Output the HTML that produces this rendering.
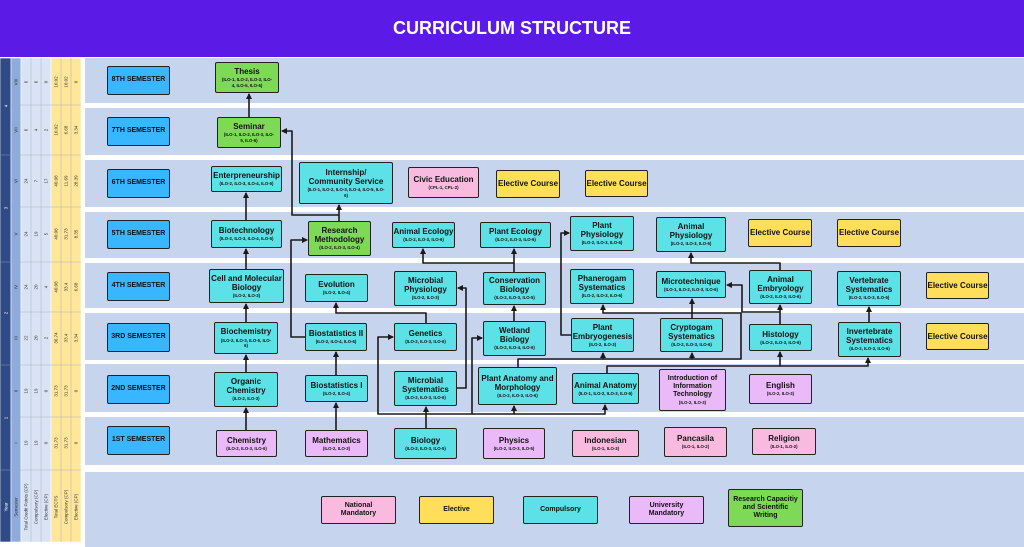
<!DOCTYPE html>
<html><head><meta charset="utf-8"><style>
*{margin:0;padding:0;box-sizing:border-box}
body{width:1024px;height:547px;position:relative;background:#fff;font-family:"Liberation Sans",sans-serif;overflow:hidden}
.t{position:absolute;left:0;top:0;width:1024px;height:57px;background:#5b1ae6;color:#fff;font-weight:bold;font-size:18px;text-align:center;line-height:57px}
.band{position:absolute;left:85px;width:939px;background:#c6d4ee}
.n{position:absolute;border:1.5px solid #222;border-radius:2px;display:flex;flex-direction:column;align-items:center;justify-content:center;text-align:center;color:#111;line-height:1.15}
.n b{font-size:8px;font-weight:bold}
.n i{font-style:normal;font-size:4.3px;font-weight:bold;margin-top:1px;line-height:1.3}
.c{background:#5ce1e6}.g{background:#7ed957}.p{background:#f8bbdf}.l{background:#eab9f8}.y{background:#ffde59}.s{background:#38b6ff}
.s b{font-size:7px}
svg{position:absolute;left:0;top:0}
</style></head><body>
<div class="t">CURRICULUM STRUCTURE</div>
<div class="band" style="top:58px;height:45px"></div>
<div class="band" style="top:108px;height:47px"></div>
<div class="band" style="top:160px;height:47px"></div>
<div class="band" style="top:212px;height:46px"></div>
<div class="band" style="top:263px;height:45px"></div>
<div class="band" style="top:313px;height:47px"></div>
<div class="band" style="top:364px;height:48px"></div>
<div class="band" style="top:417px;height:48px"></div>
<div class="band" style="top:472px;height:75px"></div>

<svg width="85" height="547" style="font-family:'Liberation Sans',sans-serif">
<g stroke="#fff" stroke-width="0.6">
<rect x="0" y="58" width="11" height="484" fill="#2f4b87"/>
<rect x="11" y="58" width="10" height="484" fill="#8faadc"/>
<rect x="21" y="58" width="30" height="484" fill="#dae3f3"/>
<rect x="51" y="58" width="30" height="484" fill="#ffe699"/>
</g>
<g stroke="#9aa8c0" stroke-width="0.4">
<line x1="0" y1="155" x2="81" y2="155"/><line x1="0" y1="262" x2="81" y2="262"/><line x1="0" y1="365" x2="81" y2="365"/><line x1="0" y1="470" x2="81" y2="470"/>
<line x1="11" y1="105" x2="81" y2="105"/><line x1="11" y1="207" x2="81" y2="207"/><line x1="11" y1="312" x2="81" y2="312"/><line x1="11" y1="417" x2="81" y2="417"/>
<line x1="31" y1="58" x2="31" y2="542"/><line x1="41" y1="58" x2="41" y2="542"/><line x1="61" y1="58" x2="61" y2="542"/><line x1="71" y1="58" x2="71" y2="542"/>
</g>
<g font-size="4.5" text-anchor="middle" fill="#333">
<g fill="#fff"><text transform="translate(6,507) rotate(-90)" dy="1.5">Year</text>
<text transform="translate(6,418) rotate(-90)" dy="1.5">1</text><text transform="translate(6,313) rotate(-90)" dy="1.5">2</text><text transform="translate(6,208) rotate(-90)" dy="1.5">3</text><text transform="translate(6,106) rotate(-90)" dy="1.5">4</text></g>
<text transform="translate(16,507) rotate(-90)" dy="1.5">Semester</text>
<text transform="translate(26,507) rotate(-90)" dy="1.5">Total Credit Points (CP)</text>
<text transform="translate(36,507) rotate(-90)" dy="1.5">Compulsory (CP)</text>
<text transform="translate(46,507) rotate(-90)" dy="1.5">Elective (CP)</text>
<text transform="translate(56,507) rotate(-90)" dy="1.5">Total ECTS</text>
<text transform="translate(66,507) rotate(-90)" dy="1.5">Compulsory (CP)</text>
<text transform="translate(76,507) rotate(-90)" dy="1.5">Elective (CP)</text>
<text transform="translate(16,82) rotate(-90)" dy="1.5">VIII</text><text transform="translate(26,82) rotate(-90)" dy="1.5">6</text><text transform="translate(36,82) rotate(-90)" dy="1.5">6</text><text transform="translate(46,82) rotate(-90)" dy="1.5">0</text><text transform="translate(56,82) rotate(-90)" dy="1.5">10.02</text><text transform="translate(66,82) rotate(-90)" dy="1.5">10.02</text><text transform="translate(76,82) rotate(-90)" dy="1.5">0</text>
<text transform="translate(16,130) rotate(-90)" dy="1.5">VII</text><text transform="translate(26,130) rotate(-90)" dy="1.5">6</text><text transform="translate(36,130) rotate(-90)" dy="1.5">4</text><text transform="translate(46,130) rotate(-90)" dy="1.5">2</text><text transform="translate(56,130) rotate(-90)" dy="1.5">10.02</text><text transform="translate(66,130) rotate(-90)" dy="1.5">6.68</text><text transform="translate(76,130) rotate(-90)" dy="1.5">3.34</text>
<text transform="translate(16,181) rotate(-90)" dy="1.5">VI</text><text transform="translate(26,181) rotate(-90)" dy="1.5">24</text><text transform="translate(36,181) rotate(-90)" dy="1.5">7</text><text transform="translate(46,181) rotate(-90)" dy="1.5">17</text><text transform="translate(56,181) rotate(-90)" dy="1.5">40.08</text><text transform="translate(66,181) rotate(-90)" dy="1.5">11.69</text><text transform="translate(76,181) rotate(-90)" dy="1.5">28.39</text>
<text transform="translate(16,234) rotate(-90)" dy="1.5">V</text><text transform="translate(26,234) rotate(-90)" dy="1.5">24</text><text transform="translate(36,234) rotate(-90)" dy="1.5">19</text><text transform="translate(46,234) rotate(-90)" dy="1.5">5</text><text transform="translate(56,234) rotate(-90)" dy="1.5">40.08</text><text transform="translate(66,234) rotate(-90)" dy="1.5">31.73</text><text transform="translate(76,234) rotate(-90)" dy="1.5">8.35</text>
<text transform="translate(16,287) rotate(-90)" dy="1.5">IV</text><text transform="translate(26,287) rotate(-90)" dy="1.5">24</text><text transform="translate(36,287) rotate(-90)" dy="1.5">20</text><text transform="translate(46,287) rotate(-90)" dy="1.5">4</text><text transform="translate(56,287) rotate(-90)" dy="1.5">40.08</text><text transform="translate(66,287) rotate(-90)" dy="1.5">33.4</text><text transform="translate(76,287) rotate(-90)" dy="1.5">6.68</text>
<text transform="translate(16,338) rotate(-90)" dy="1.5">III</text><text transform="translate(26,338) rotate(-90)" dy="1.5">22</text><text transform="translate(36,338) rotate(-90)" dy="1.5">20</text><text transform="translate(46,338) rotate(-90)" dy="1.5">2</text><text transform="translate(56,338) rotate(-90)" dy="1.5">36.74</text><text transform="translate(66,338) rotate(-90)" dy="1.5">33.4</text><text transform="translate(76,338) rotate(-90)" dy="1.5">3.34</text>
<text transform="translate(16,391) rotate(-90)" dy="1.5">II</text><text transform="translate(26,391) rotate(-90)" dy="1.5">19</text><text transform="translate(36,391) rotate(-90)" dy="1.5">19</text><text transform="translate(46,391) rotate(-90)" dy="1.5">0</text><text transform="translate(56,391) rotate(-90)" dy="1.5">31.73</text><text transform="translate(66,391) rotate(-90)" dy="1.5">31.73</text><text transform="translate(76,391) rotate(-90)" dy="1.5">0</text>
<text transform="translate(16,443) rotate(-90)" dy="1.5">I</text><text transform="translate(26,443) rotate(-90)" dy="1.5">19</text><text transform="translate(36,443) rotate(-90)" dy="1.5">19</text><text transform="translate(46,443) rotate(-90)" dy="1.5">0</text><text transform="translate(56,443) rotate(-90)" dy="1.5">31.73</text><text transform="translate(66,443) rotate(-90)" dy="1.5">31.73</text><text transform="translate(76,443) rotate(-90)" dy="1.5">0</text>
</g>
</svg>

<svg width="1024" height="547">
<defs><marker id="a" markerWidth="6" markerHeight="6" refX="5" refY="3" orient="auto" markerUnits="userSpaceOnUse"><path d="M0,0 L6,3 L0,6 z" fill="#1a1a1a"/></marker></defs>
<g fill="none" stroke="#1a1a1a" stroke-width="1.6" stroke-linejoin="round" marker-end="url(#a)">
<path d="M249,117 V94"/>
<path d="M339,221 V205"/>
<path d="M339,215 H292 V131 H282"/>
<path d="M246,220 V193"/>
<path d="M246,269 V249"/>
<path d="M246,322 V304"/>
<path d="M246,372 V355"/>
<path d="M246,430 V408"/>
<path d="M336,430 V403"/>
<path d="M336,375 V352"/>
<path d="M305,337 H291 V240 H307"/>
<path d="M426,323 V313 H336 V303"/>
<path d="M426,428 V407"/>
<path d="M426,414 H378 V337 H393"/>
<path d="M426,414 H472 V338 H482"/>
<path d="M472,414 H514 V406"/>
<path d="M514,414 H605 V405"/>
<path d="M457,388 H466 V288 H458"/>
<path d="M514,321 V306"/>
<path d="M514,272 V263 H423 V249"/>
<path d="M514,263 V249"/>
<path d="M518,367 V359 H603 V353"/>
<path d="M603,359 H692 V353"/>
<path d="M692,359 H741 V313 H603 V305"/>
<path d="M692,318 V299"/>
<path d="M571,335 H561 V233 H569"/>
<path d="M607,373 V366 H780 V352"/>
<path d="M780,366 H868 V358"/>
<path d="M780,324 V305"/>
<path d="M780,312 H742 V285 H727"/>
<path d="M780,270 V263 H691 V253"/>
<path d="M869,322 V307"/>
</g>
</svg>

<div class="n s" style="left:107px;top:66px;width:63px;height:29px"><b>8TH SEMESTER</b></div>
<div class="n s" style="left:107px;top:117px;width:63px;height:29px"><b>7TH SEMESTER</b></div>
<div class="n s" style="left:107px;top:169px;width:63px;height:29px"><b>6TH SEMESTER</b></div>
<div class="n s" style="left:107px;top:220px;width:63px;height:29px"><b>5TH SEMESTER</b></div>
<div class="n s" style="left:107px;top:272px;width:63px;height:29px"><b>4TH SEMESTER</b></div>
<div class="n s" style="left:107px;top:323px;width:63px;height:29px"><b>3RD SEMESTER</b></div>
<div class="n s" style="left:107px;top:375px;width:63px;height:29px"><b>2ND SEMESTER</b></div>
<div class="n s" style="left:107px;top:426px;width:63px;height:29px"><b>1ST SEMESTER</b></div>

<div class="n g" style="left:215px;top:62px;width:64px;height:31px"><b>Thesis</b><i>(ILO-1, ILO-2, ILO-3, ILO-<br>4, ILO-5, ILO-6)</i></div>
<div class="n g" style="left:217px;top:117px;width:64px;height:31px"><b>Seminar</b><i>(ILO-1, ILO-2, ILO-3, ILO-<br>5, ILO-6)</i></div>
<div class="n c" style="left:211px;top:166px;width:71px;height:26px"><b>Enterpreneurship</b><i>(ILO-2, ILO-3, ILO-4, ILO-5)</i></div>
<div class="n c" style="left:299px;top:162px;width:94px;height:42px"><b>Internship/<br>Community Service</b><i>(ILO-1, ILO-2, ILO-3, ILO-4, ILO-5, ILO-<br>6)</i></div>
<div class="n p" style="left:408px;top:167px;width:71px;height:31px"><b>Civic Education</b><i>(CPL-1, CPL-2)</i></div>
<div class="n y" style="left:496px;top:170px;width:64px;height:28px"><b>Elective Course</b></div>
<div class="n y" style="left:585px;top:170px;width:63px;height:27px"><b>Elective Course</b></div>

<div class="n c" style="left:211px;top:220px;width:71px;height:28px"><b>Biotechnology</b><i>(ILO-2, ILO-3, ILO-4, ILO-5)</i></div>
<div class="n g" style="left:308px;top:221px;width:63px;height:35px"><b>Research<br>Methodology</b><i>(ILO-2, ILO-3, ILO-4)</i></div>
<div class="n c" style="left:392px;top:222px;width:63px;height:26px"><b>Animal Ecology</b><i>(ILO-2, ILO-3, ILO-6)</i></div>
<div class="n c" style="left:480px;top:222px;width:71px;height:26px"><b>Plant Ecology</b><i>(ILO-2, ILO-3, ILO-6)</i></div>
<div class="n c" style="left:570px;top:216px;width:64px;height:35px"><b>Plant<br>Physiology</b><i>(ILO-2, ILO-3, ILO-6)</i></div>
<div class="n c" style="left:656px;top:217px;width:70px;height:35px"><b>Animal<br>Physiology</b><i>(ILO-2, ILO-3, ILO-6)</i></div>
<div class="n y" style="left:748px;top:219px;width:64px;height:28px"><b>Elective Course</b></div>
<div class="n y" style="left:837px;top:219px;width:64px;height:28px"><b>Elective Course</b></div>

<div class="n c" style="left:209px;top:269px;width:75px;height:34px"><b>Cell and Molecular<br>Biology</b><i>(ILO-2, ILO-3)</i></div>
<div class="n c" style="left:305px;top:274px;width:63px;height:28px"><b>Evolution</b><i>(ILO-2, ILO-4)</i></div>
<div class="n c" style="left:394px;top:271px;width:63px;height:35px"><b>Microbial<br>Physiology</b><i>(ILO-2, ILO-3)</i></div>
<div class="n c" style="left:483px;top:272px;width:63px;height:33px"><b>Conservation<br>Biology</b><i>(ILO-2, ILO-3, ILO-5)</i></div>
<div class="n c" style="left:570px;top:269px;width:64px;height:35px"><b>Phanerogam<br>Systematics</b><i>(ILO-2, ILO-3, ILO-6)</i></div>
<div class="n c" style="left:656px;top:271px;width:70px;height:27px"><b>Microtechnique</b><i>(ILO-1, ILO-2, ILO-3, ILO-6)</i></div>
<div class="n c" style="left:749px;top:270px;width:63px;height:34px"><b>Animal<br>Embryology</b><i>(ILO-2, ILO-3, ILO-6)</i></div>
<div class="n c" style="left:837px;top:271px;width:64px;height:35px"><b>Vertebrate<br>Systematics</b><i>(ILO-2, ILO-3, ILO-6)</i></div>
<div class="n y" style="left:926px;top:272px;width:63px;height:27px"><b>Elective Course</b></div>

<div class="n c" style="left:214px;top:322px;width:64px;height:32px"><b>Biochemistry</b><i>(ILO-2, ILO-3, ILO-5, ILO-<br>6)</i></div>
<div class="n c" style="left:305px;top:323px;width:62px;height:28px"><b>Biostatistics II</b><i>(ILO-2, ILO-4, ILO-6)</i></div>
<div class="n c" style="left:394px;top:323px;width:63px;height:28px"><b>Genetics</b><i>(ILO-2, ILO-3, ILO-6)</i></div>
<div class="n c" style="left:483px;top:321px;width:63px;height:35px"><b>Wetland<br>Biology</b><i>(ILO-2, ILO-4, ILO-6)</i></div>
<div class="n c" style="left:571px;top:318px;width:63px;height:34px"><b>Plant<br>Embryogenesis</b><i>(ILO-2, ILO-3)</i></div>
<div class="n c" style="left:660px;top:318px;width:63px;height:34px"><b>Cryptogam<br>Systematics</b><i>(ILO-2, ILO-3, ILO-6)</i></div>
<div class="n c" style="left:749px;top:324px;width:63px;height:27px"><b>Histology</b><i>(ILO-2, ILO-3, ILO-6)</i></div>
<div class="n c" style="left:838px;top:322px;width:63px;height:35px"><b>Invertebrate<br>Systematics</b><i>(ILO-2, ILO-3, ILO-6)</i></div>
<div class="n y" style="left:926px;top:323px;width:63px;height:27px"><b>Elective Course</b></div>

<div class="n c" style="left:214px;top:372px;width:64px;height:35px"><b>Organic<br>Chemistry</b><i>(ILO-2, ILO-3)</i></div>
<div class="n c" style="left:305px;top:375px;width:63px;height:27px"><b>Biostatistics I</b><i>(ILO-2, ILO-4)</i></div>
<div class="n c" style="left:394px;top:371px;width:63px;height:35px"><b>Microbial<br>Systematics</b><i>(ILO-2, ILO-3, ILO-6)</i></div>
<div class="n c" style="left:478px;top:367px;width:79px;height:38px"><b>Plant Anatomy and<br>Morphology</b><i>(ILO-2, ILO-3, ILO-6)</i></div>
<div class="n c" style="left:572px;top:373px;width:67px;height:31px"><b>Animal Anatomy</b><i>(ILO-1, ILO-2, ILO-3, ILO-6)</i></div>
<div class="n l" style="left:659px;top:369px;width:67px;height:42px"><b style="font-size:7px">Introduction of<br>Information<br>Technology</b><i>(ILO-2, ILO-3)</i></div>
<div class="n l" style="left:749px;top:374px;width:63px;height:30px"><b>English</b><i>(ILO-2, ILO-3)</i></div>

<div class="n l" style="left:216px;top:430px;width:61px;height:27px"><b>Chemistry</b><i>(ILO-2, ILO-3, ILO-6)</i></div>
<div class="n l" style="left:305px;top:430px;width:63px;height:27px"><b>Mathematics</b><i>(ILO-2, ILO-3)</i></div>
<div class="n c" style="left:394px;top:428px;width:63px;height:31px"><b>Biology</b><i>(ILO-2, ILO-3, ILO-5)</i></div>
<div class="n l" style="left:483px;top:428px;width:62px;height:31px"><b>Physics</b><i>(ILO-2, ILO-3, ILO-5)</i></div>
<div class="n p" style="left:572px;top:430px;width:67px;height:27px"><b>Indonesian</b><i>(ILO-1, ILO-3)</i></div>
<div class="n p" style="left:664px;top:427px;width:63px;height:30px"><b>Pancasila</b><i>(ILO-1, ILO-2)</i></div>
<div class="n p" style="left:752px;top:428px;width:64px;height:27px"><b>Religion</b><i>(ILO-1, ILO-2)</i></div>

<div class="n p" style="left:321px;top:496px;width:75px;height:28px"><b style="font-size:7px">National<br>Mandatory</b></div>
<div class="n y" style="left:419px;top:496px;width:75px;height:28px"><b style="font-size:7px">Elective</b></div>
<div class="n c" style="left:523px;top:496px;width:75px;height:28px"><b style="font-size:7px">Compulsory</b></div>
<div class="n l" style="left:629px;top:496px;width:75px;height:28px"><b style="font-size:7px">University<br>Mandatory</b></div>
<div class="n g" style="left:728px;top:489px;width:75px;height:38px"><b style="font-size:7px">Research Capacitiy<br>and Scientific<br>Writing</b></div>
</body></html>
